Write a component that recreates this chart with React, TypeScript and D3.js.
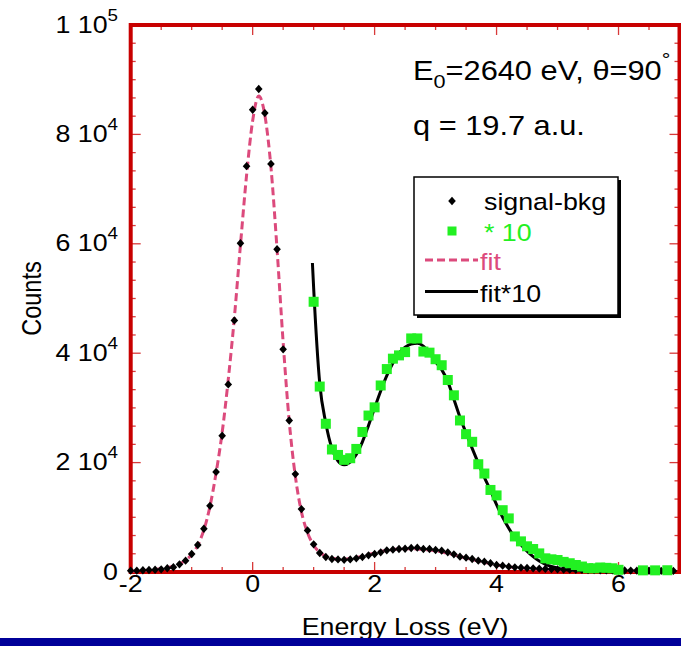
import React from "react";
import * as d3 from "d3";

// ---------- data ----------
const energy = [
  -2.0, -1.9, -1.8, -1.7, -1.6, -1.5, -1.4, -1.3, -1.2, -1.1,
  -1.0, -0.9, -0.8, -0.7, -0.6, -0.5, -0.4, -0.3, -0.2, -0.1,
  0.0, 0.1, 0.2, 0.3, 0.4, 0.5, 0.6, 0.7, 0.8, 0.9,
  1.0, 1.1, 1.2, 1.3, 1.4, 1.5, 1.6, 1.7, 1.8, 1.9,
  2.0, 2.1, 2.2, 2.3, 2.4, 2.5, 2.6, 2.7, 2.8, 2.9,
  3.0, 3.1, 3.2, 3.3, 3.4, 3.5, 3.6, 3.7, 3.8, 3.9,
  4.0, 4.1, 4.2, 4.3, 4.4, 4.5, 4.6, 4.7, 4.8, 4.9,
  5.0, 5.1, 5.2, 5.3, 5.4, 5.5, 5.6, 5.7, 5.8, 5.9,
  6.0, 6.1, 6.2, 6.3, 6.4, 6.5, 6.6, 6.7, 6.8, 6.9,
];
const signalBkg = [
  240, 240, 310, 370, 420, 490, 680, 860, 1400, 2070,
  3290, 4940, 7900, 12100, 18300, 24900, 34300, 46000, 60100, 74200,
  84500, 88300, 83900, 74600, 59000, 40700, 27700, 17900, 11500, 7600,
  5060, 3480, 2750, 2380, 2300, 2220, 2300, 2500, 2750, 3050,
  3290, 3600, 3960, 4080, 4200, 4260, 4390, 4450, 4200, 4200,
  4020, 3900, 3600, 3230, 2800, 2620, 2380, 2070, 1890, 1590,
  1280, 1160, 970, 850, 790, 730, 670, 610, 560, 520,
  490, 460, 430, 400, 380, 360, 340, 320, 300, 290,
  280, 270, 260, 250, 240, 230, 220, 210, 200, 200,
];
const fitValues = [
  150, 200, 260, 340, 440, 580, 780, 1080, 1500, 2150,
  3200, 4900, 7700, 12000, 18100, 25500, 35200, 46500, 59800, 72500,
  82500, 87000, 83500, 74000, 59000, 42000, 27500, 17500, 11000, 7200,
  4900, 3600, 2900, 2500, 2350, 2350, 2450, 2650, 2900, 3200,
  3500, 3750, 3950, 4100, 4200, 4250, 4250, 4200, 4120, 4000,
  3850, 3650, 3400, 3150, 2850, 2550, 2300, 2000, 1750, 1500,
  1300, 1100, 950, 820, 720, 640, 580, 520, 470, 430,
  390, 360, 330, 300, 280, 260, 240, 225, 210, 200,
  190, 185, 180, 175, 170, 165, 160, 155, 150, 150,
];

const times10Energy = [
  1.0, 1.1, 1.2, 1.3, 1.4, 1.5, 1.6, 1.7, 1.8, 1.9,
  2.0, 2.1, 2.2, 2.3, 2.4, 2.5, 2.6, 2.7, 2.8, 2.9,
  3.0, 3.1, 3.2, 3.3, 3.4, 3.5, 3.6, 3.7, 3.8, 3.9,
  4.0, 4.1, 4.2, 4.3, 4.4, 4.5, 4.6, 4.7, 4.8, 4.9,
  5.0, 5.1, 5.2, 5.3, 5.4, 5.5, 5.6, 5.7, 5.8, 5.9,
  6.0, 6.4, 6.6, 6.8,
];
const times10Values = [
  49400, 33900, 27100, 22400, 21400, 20500, 20800, 22500, 25600, 28600,
  30100, 34100, 37100, 39000, 39600, 40200, 42700, 42700, 40300, 40100,
  38900, 37800, 35100, 32300, 27700, 25200, 23800, 19700, 18000, 15000,
  14000, 11300, 9800, 6500, 5600, 4700, 4200, 3400, 2500, 2320,
  2190, 1850, 1600, 1280, 1000, 700, 680, 820, 760, 680,
  400, 300, 300, 320,
];

const fit10Energy = [
  0.98, 1.0, 1.1, 1.2, 1.3, 1.4, 1.5, 1.6, 1.7, 1.8, 1.9,
  2.0, 2.1, 2.2, 2.3, 2.4, 2.5, 2.6, 2.7, 2.8, 2.9,
  3.0, 3.1, 3.2, 3.3, 3.4, 3.5, 3.6, 3.7, 3.8, 3.9,
  4.0, 4.1, 4.2, 4.3, 4.4, 4.5, 4.6, 4.7, 4.8, 4.9,
  5.0, 5.2, 5.5, 6.0,
];
const fit10Values = [
  56500, 52000, 34500, 27200, 22600, 20300, 19600, 20100, 21500, 23800, 26800,
  30000, 33100, 35900, 38200, 40000, 41100, 41700, 41800, 41300, 40100,
  38400, 37000, 34800, 31600, 28300, 25400, 22600, 19900, 17300, 14900,
  12300, 10000, 8000, 6300, 5000, 3800, 2800, 2000, 1400, 1000,
  700, 350, 150, 50,
];

const xTickLabels = ["-2", "0", "2", "4", "6"];
const xTickValues = [-2, 0, 2, 4, 6];
const yTickValues = [0, 20000, 40000, 60000, 80000, 100000];
const yTickMantissa = ["0", "2 10", "4 10", "6 10", "8 10", "1 10"];
const yTickExponent = ["", "4", "4", "4", "4", "5"];

const legendLabels = ["signal-bkg", "* 10", "fit", "fit*10"];

// ---------- styles ----------
const W = 681;
const H = 646;
const SX = 1.14;
const FONT = "'Liberation Sans', Arial, Helvetica, sans-serif";
const RED = "#c80000";
const TICK = "#d83a3a";
const PINK = "#dc4a7c";
const GREEN = "#22f022";

function T({ x, y, anchor = "start", size = 23.5, fill = "#000", rotate = 0, children }: any) {
  return (
    <text
      transform={`translate(${x},${y}) scale(${SX},1)${rotate ? ` rotate(${rotate})` : ""}`}
      textAnchor={anchor}
      fontSize={size}
      fontFamily={FONT}
      fill={fill}
    >
      {children}
    </text>
  );
}

function diamondPath(cx: number, cy: number, r = 3.8) {
  return `M${cx},${cy - r * 1.1}L${cx + r},${cy}L${cx},${cy + r * 1.1}L${cx - r},${cy}Z`;
}

export default function App() {
  const x = d3.scaleLinear().domain([-2, 7]).range([130.7, 679.5]);
  const y = d3.scaleLinear().domain([0, 100000]).range([572, 25]);
  const [x0, x1] = x.range();
  const [y0, y1] = y.range();

  const xMinor = d3.range(0, 19).map((i) => -2 + i * 0.5);
  const yMinor = d3.range(0, 31).map((i) => (i * 20000) / 6);

  const fitLine = d3
    .line<number>()
    .x((_, i) => x(energy[i]))
    .y((d) => y(d))
    .curve(d3.curveMonotoneX);
  const fit10Line = d3
    .line<number>()
    .x((_, i) => x(fit10Energy[i]))
    .y((d) => y(d))
    .curve(d3.curveMonotoneX);

  const sq = 10;

  return (
    <svg
      width={W}
      height={H}
      viewBox={`0 0 ${W} ${H}`}
      style={{ position: "absolute", left: 0, top: 0, background: "#fff" }}
    >
      <rect x={0} y={0} width={W} height={H} fill="#fff" />

      {/* ticks */}
      <g stroke={TICK} strokeWidth={1.3}>
        {xMinor.map((v, i) => {
          const len = i % 4 === 0 ? 10 : 5;
          return (
            <g key={"xt" + i}>
              <line x1={x(v)} x2={x(v)} y1={y0} y2={y0 - len} />
              <line x1={x(v)} x2={x(v)} y1={y1} y2={y1 + len} />
            </g>
          );
        })}
        {yMinor.map((v, i) => {
          const len = i % 6 === 0 ? 10 : 5;
          return (
            <g key={"yt" + i}>
              <line x1={x0} x2={x0 + len} y1={y(v)} y2={y(v)} />
              <line x1={x1} x2={x1 - len} y1={y(v)} y2={y(v)} />
            </g>
          );
        })}
      </g>

      {/* frame */}
      <rect x={x0} y={y1} width={x1 - x0} height={y0 - y1} fill="none" stroke={RED} strokeWidth={4} />

      {/* tick labels */}
      {xTickValues.map((v, i) => (
        <T key={"xl" + i} x={x(v)} y={592} anchor="middle">
          {xTickLabels[i]}
        </T>
      ))}
      {yTickValues.map((v, i) => (
        <T key={"yl" + i} x={118} y={y(v) + 7.5} anchor="end">
          <tspan>{yTickMantissa[i]}</tspan>
          {yTickExponent[i] ? (
            <tspan dy={-12} fontSize={16.5}>
              {yTickExponent[i]}
            </tspan>
          ) : null}
        </T>
      ))}

      {/* axis titles */}
      <T x={41} y={(y0 + y1) / 2} anchor="middle" rotate={-90}>
        Counts
      </T>
      <T x={(x0 + x1) / 2} y={635} anchor="middle">
        Energy Loss (eV)
      </T>

      {/* annotation */}
      <T x={413} y={80} size={27}>
        <tspan>E</tspan>
        <tspan dy={8} fontSize={19}>0</tspan>
        <tspan dy={-8}>=2640 eV, θ=90</tspan>
        <tspan dy={-14} fontSize={19}>°</tspan>
      </T>
      <T x={413} y={135} size={27}>
        q = 19.7 a.u.
      </T>

      {/* legend */}
      <rect x={417} y={180} width={204} height={138} fill="#000" />
      <rect x={414} y={177} width={204} height={138} fill="#fff" stroke="#000" strokeWidth={1.5} />
      <path d={diamondPath(452, 201)} fill="#000" />
      <T x={484} y={210}>{legendLabels[0]}</T>
      <rect x={452 - 4.5} y={231 - 4.5} width={9} height={9} fill={GREEN} />
      <T x={484} y={240.5} fill={GREEN}>{legendLabels[1]}</T>
      <line x1={425} x2={478} y1={260} y2={260} stroke={PINK} strokeWidth={3} strokeDasharray="8 4" />
      <T x={480} y={270} fill={PINK}>{legendLabels[2]}</T>
      <line x1={425} x2={478} y1={291.5} y2={291.5} stroke="#000" strokeWidth={3} />
      <T x={480} y={301.5}>{legendLabels[3]}</T>

      {/* fit (dashed pink) */}
      <path d={fitLine(fitValues) || ""} fill="none" stroke={PINK} strokeWidth={3} strokeDasharray="8 4" />

      {/* signal-bkg diamonds */}
      {signalBkg.map((v, i) => (
        <path key={"d" + i} d={diamondPath(x(energy[i]), y(v))} fill="#000" />
      ))}

      {/* fit*10 */}
      <path d={fit10Line(fit10Values) || ""} fill="none" stroke="#000" strokeWidth={3} />

      {/* *10 squares */}
      {times10Values.map((v, i) => (
        <rect
          key={"s" + i}
          x={x(times10Energy[i]) - sq / 2}
          y={y(v) - sq / 2}
          width={sq}
          height={sq}
          fill={GREEN}
        />
      ))}

      {/* bottom bar */}
      <rect x={0} y={638} width={W} height={H - 638} fill="#000099" />
    </svg>
  );
}
